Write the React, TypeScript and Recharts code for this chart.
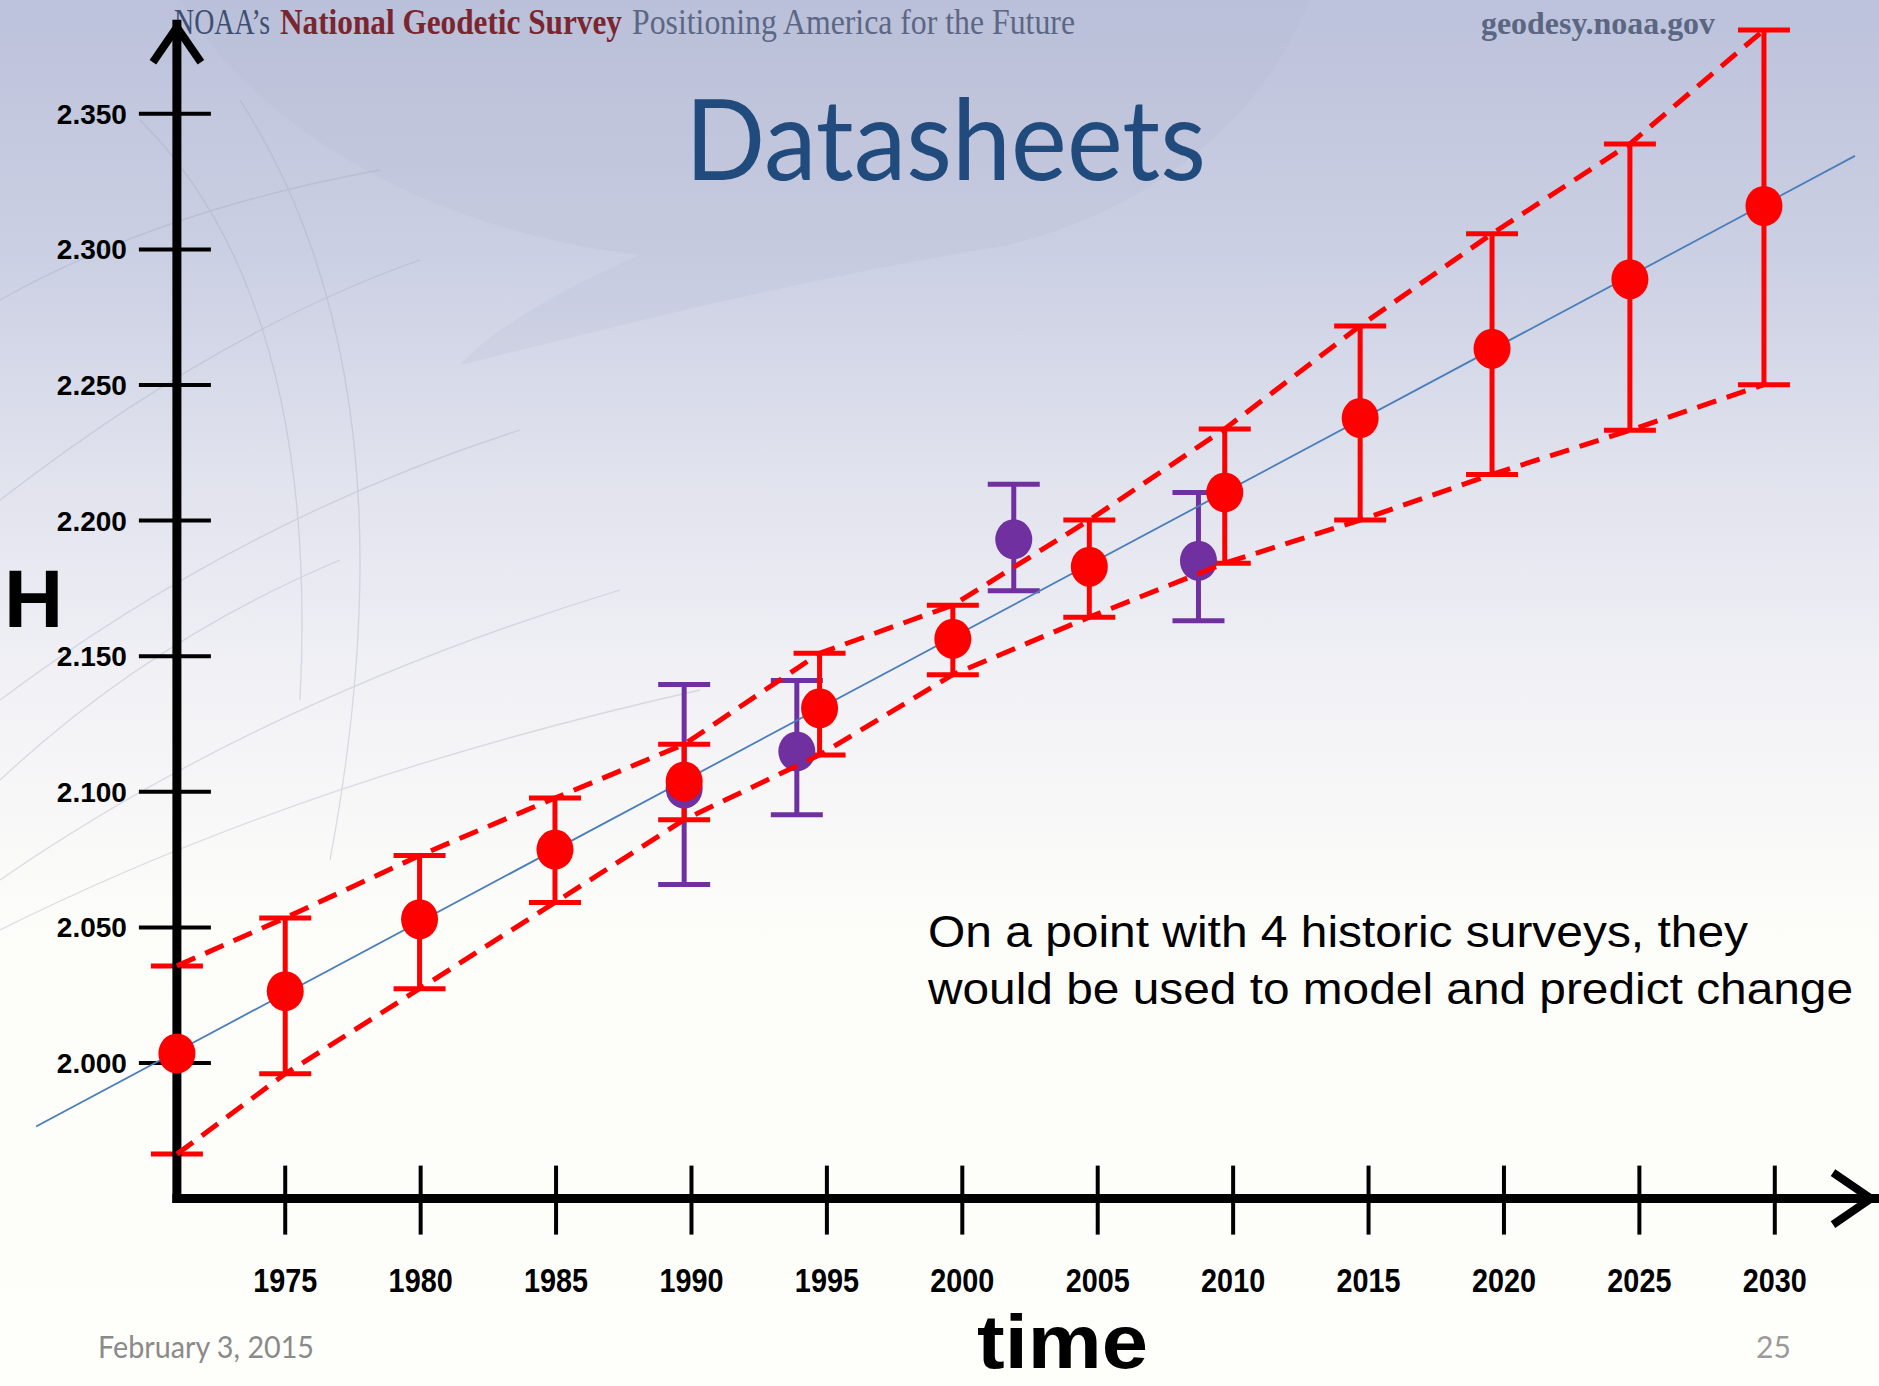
import React from 'react';
import { ScatterChart, Scatter, XAxis, YAxis, ErrorBar } from 'recharts';

const W = 1879;
const H = 1386;

// Modelled heights (red) with uncertainty bounds
const redYears = [1971.0, 1975.0, 1979.96, 1984.96, 1989.73, 1994.73, 1999.65, 2004.69, 2009.69, 2014.69, 2019.56, 2024.65, 2029.6];
const redH = [2.0035, 2.0265, 2.053, 2.0787, 2.1038, 2.1308, 2.1564, 2.183, 2.2104, 2.2378, 2.2634, 2.289, 2.316];
const redHigh = [2.0358, 2.0535, 2.0765, 2.0977, 2.1175, 2.1511, 2.1688, 2.2002, 2.2338, 2.2718, 2.3058, 2.3389, 2.3809];
const redLow = [1.9664, 1.996, 2.0274, 2.0592, 2.0897, 2.1136, 2.1432, 2.1644, 2.1843, 2.2002, 2.217, 2.2333, 2.2501];

// Historic surveys (purple)
const surveyYears = [1989.73, 1993.89, 2001.9, 2008.72];
const surveyH = [2.1012, 2.1149, 2.1931, 2.1852];
const surveyHigh = [2.1396, 2.141, 2.2134, 2.2104];
const surveyLow = [2.0658, 2.0915, 2.1741, 2.1631];

// Fitted trend line (blue)
const fitYears = [1965.8, 2032.96];
const fitH = [1.9766, 2.3345];

const xTicks = [1975, 1980, 1985, 1990, 1995, 2000, 2005, 2010, 2015, 2020, 2025, 2030];
const yTicks = [2.0, 2.05, 2.1, 2.15, 2.2, 2.25, 2.3, 2.35];
const yTickLabels = ['2.000', '2.050', '2.100', '2.150', '2.200', '2.250', '2.300', '2.350'];

const X_MIN = 1965;
const X_MAX = 2033.7;
const Y_MIN = 1.95;
const Y_MAX = 2.383;
const AXIS_YEAR = 1971;

const RED = '#ff0000';
const PURPLE = '#7030a0';
const BLUE = '#4a7ebb';
const SANS = '"Liberation Sans", Arial, sans-serif';
const SERIF = '"Liberation Serif", "DejaVu Serif", serif';
const GILL = "Lato, 'Open Sans', sans-serif";

const redData = redYears.map((x, i) => ({ x, y: redH[i], err: [redH[i] - redLow[i], redHigh[i] - redH[i]] }));
const surveyData = surveyYears.map((x, i) => ({ x, y: surveyH[i], err: [surveyH[i] - surveyLow[i], surveyHigh[i] - surveyH[i]] }));
const upperData = redYears.map((x, i) => ({ x, y: redHigh[i] }));
const lowerData = redYears.map((x, i) => ({ x, y: redLow[i] }));
const fitData = fitYears.map((x, i) => ({ x, y: fitH[i] }));
const yAxisData = [{ x: AXIS_YEAR, y: Y_MIN }, { x: AXIS_YEAR, y: Y_MAX }];
const xAxisData = [{ x: AXIS_YEAR, y: Y_MIN }, { x: X_MAX, y: Y_MIN }];
const yTickData = yTicks.map((y, i) => ({ x: AXIS_YEAR, y, label: yTickLabels[i] }));
const yArrowData = [{ x: AXIS_YEAR, y: Y_MAX }];
const xArrowData = [{ x: X_MAX, y: Y_MIN }];

const Empty = () => <g />;

const Dot = (color: string) => (p: any) => (
  <ellipse cx={p.cx} cy={p.cy} rx={18.5} ry={20} fill={color} />
);

const YTickShape = (p: any) => (
  <g>
    <line x1={p.cx - 38} x2={p.cx + 34} y1={p.cy} y2={p.cy} stroke="#000" strokeWidth={4} />
    <text x={p.cx - 50} y={p.cy + 10} textAnchor="end" fontFamily={SANS} fontWeight="bold" fontSize={28} fill="#000">
      {p.payload.label}
    </text>
  </g>
);

const YArrow = (p: any) => (
  <path d={`M ${p.cx - 24} ${p.cy + 38} L ${p.cx} ${p.cy + 3} L ${p.cx + 24} ${p.cy + 38}`} fill="none" stroke="#000" strokeWidth={8} strokeLinejoin="miter" />
);

const XArrow = (p: any) => (
  <path d={`M ${p.cx - 42} ${p.cy - 26} L ${p.cx - 4} ${p.cy} L ${p.cx - 42} ${p.cy + 26}`} fill="none" stroke="#000" strokeWidth={8} strokeLinejoin="miter" />
);

const XTick = (props: any) => {
  const { x, y, payload } = props;
  return (
    <g>
      <line x1={x} x2={x} y1={y - 33} y2={y + 36} stroke="#000" strokeWidth={4} />
      <text
        transform={`translate(${x}, ${y + 93}) scale(0.9, 1.05)`}
        textAnchor="middle"
        fontFamily={SANS}
        fontWeight="bold"
        fontSize={32}
        fill="#000"
      >
        {payload.value}
      </text>
    </g>
  );
};

const Background = () => (
  <svg width={W} height={H} style={{ position: 'absolute', left: 0, top: 0 }}>
    <defs>
      <linearGradient id="bg" x1="0" y1="0" x2="0" y2="1">
        <stop offset="0" stopColor="#bcc2db" />
        <stop offset="0.18" stopColor="#cbcfe3" />
        <stop offset="0.34" stopColor="#e0e2ed" />
        <stop offset="0.5" stopColor="#f2f2f6" />
        <stop offset="0.66" stopColor="#fcfcf9" />
        <stop offset="1" stopColor="#fefefb" />
      </linearGradient>
    </defs>
    <rect x={0} y={0} width={W} height={H} fill="url(#bg)" />
    <path
      d="M 180 0 C 250 120 420 230 640 255 C 560 290 490 330 460 365 C 640 320 820 275 1010 245 C 1160 205 1260 120 1310 0 Z"
      fill="#b2b8d2"
      opacity={0.2}
    />
    <g fill="none" stroke="#a4a8bd" strokeWidth={1.3} opacity={0.35}>
      <path d="M 0 300 Q 160 210 380 170" />
      <path d="M 0 500 Q 220 330 420 260" />
      <path d="M 0 700 Q 240 520 520 430" />
      <path d="M 0 880 Q 260 700 620 590" />
      <path d="M 0 930 Q 300 780 700 690" />
      <path d="M 240 100 Q 420 380 330 860" />
      <path d="M 140 120 Q 320 300 300 700" />
      <path d="M 0 780 Q 150 640 340 560" />
    </g>
    <text transform="translate(174, 34) scale(1, 1.35)" fontFamily={SERIF} fontSize={26} fill="#3d4f73" textLength={96} lengthAdjust="spacingAndGlyphs">
      NOAA’s
    </text>
    <text transform="translate(280, 34) scale(1, 1.13)" fontFamily={SERIF} fontWeight="bold" fontSize={31} fill="#7a2630" textLength={342} lengthAdjust="spacingAndGlyphs">
      National Geodetic Survey
    </text>
    <text transform="translate(632, 34) scale(1, 1.13)" fontFamily={SERIF} fontSize={31} fill="#5b6784" textLength={443} lengthAdjust="spacingAndGlyphs">
      Positioning America for the Future
    </text>
    <text x={1481} y={34} fontFamily={SERIF} fontWeight="bold" fontSize={32} fill="#5a6682" textLength={234} lengthAdjust="spacingAndGlyphs">
      geodesy.noaa.gov
    </text>
    <text x={685} y={180} fontFamily={GILL} fontSize={112} fill="#214b7d" textLength={521} lengthAdjust="spacingAndGlyphs">
      Datasheets
    </text>
    <text x={4} y={627} fontFamily={SANS} fontWeight="bold" fontSize={82} fill="#000">H</text>
    <text x={977} y={1368} fontFamily={SANS} fontWeight="bold" fontSize={76} fill="#000" textLength={171} lengthAdjust="spacingAndGlyphs">time</text>
    <text x={928} y={947} fontFamily={SANS} fontSize={45} fill="#000" textLength={820} lengthAdjust="spacingAndGlyphs">
      On a point with 4 historic surveys, they
    </text>
    <text x={928} y={1004} fontFamily={SANS} fontSize={45} fill="#000" textLength={925} lengthAdjust="spacingAndGlyphs">
      would be used to model and predict change
    </text>
    <text x={98} y={1358} fontFamily={GILL} fontSize={30} fill="#8a8a8a" textLength={216} lengthAdjust="spacingAndGlyphs">
      February 3, 2015
    </text>
    <text x={1756} y={1358} fontFamily={GILL} fontSize={30} fill="#9a9a9a">25</text>
  </svg>
);

export default function App() {
  return (
    <div style={{ position: 'absolute', left: 0, top: 0, width: W, height: H, overflow: 'hidden' }}>
      <Background />
      <div style={{ position: 'absolute', left: 0, top: 0 }}>
        <ScatterChart width={W} height={H} margin={{ top: 24.3, right: 4, bottom: 157.4, left: 14.4 }}>
          <XAxis
            type="number"
            dataKey="x"
            domain={[X_MIN, X_MAX]}
            ticks={xTicks}
            tick={<XTick />}
            tickLine={false}
            axisLine={false}
            tickSize={0}
            tickMargin={0}
            height={30}
            interval={0}
          />
          <YAxis type="number" dataKey="y" domain={[Y_MIN, Y_MAX]} hide />
          <Scatter data={yAxisData} shape={Empty} line={{ stroke: '#000', strokeWidth: 9, strokeLinecap: 'square' }} isAnimationActive={false} />
          <Scatter data={xAxisData} shape={Empty} line={{ stroke: '#000', strokeWidth: 9, strokeLinecap: 'square' }} isAnimationActive={false} />
          <Scatter data={yArrowData} shape={YArrow} isAnimationActive={false} />
          <Scatter data={xArrowData} shape={XArrow} isAnimationActive={false} />
          <Scatter data={yTickData} shape={YTickShape} isAnimationActive={false} />
          <Scatter data={fitData} shape={Empty} line={{ stroke: BLUE, strokeWidth: 1.8 }} isAnimationActive={false} />
          <Scatter data={surveyData} shape={Dot(PURPLE)} isAnimationActive={false}>
            <ErrorBar dataKey="err" direction="y" width={26} strokeWidth={5} stroke={PURPLE} />
          </Scatter>
          <Scatter data={upperData} shape={Empty} line={{ stroke: RED, strokeWidth: 5, strokeDasharray: '20 11' }} isAnimationActive={false} />
          <Scatter data={lowerData} shape={Empty} line={{ stroke: RED, strokeWidth: 5, strokeDasharray: '20 11' }} isAnimationActive={false} />
          <Scatter data={redData} shape={Dot(RED)} isAnimationActive={false}>
            <ErrorBar dataKey="err" direction="y" width={26} strokeWidth={5} stroke={RED} />
          </Scatter>
        </ScatterChart>
      </div>
    </div>
  );
}
